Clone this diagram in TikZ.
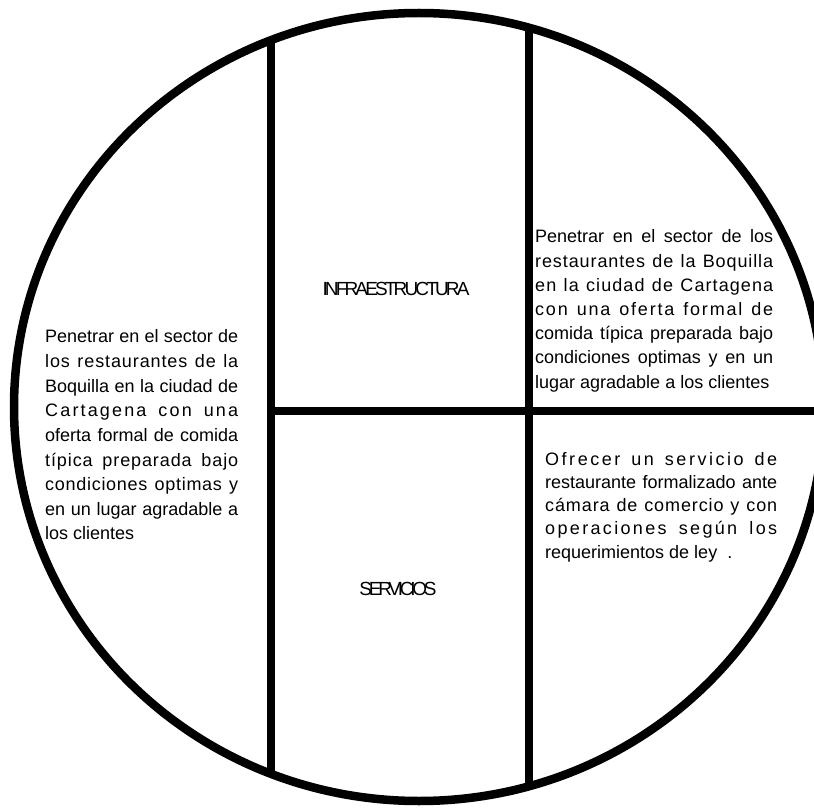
\documentclass[tikz,border=0pt]{standalone}
\usepackage{fontspec}
\setmainfont{Liberation Sans}
\newcommand\spaced[2]{{\addfontfeature{LetterSpace=#1}#2}}
\begin{document}
\begin{tikzpicture}[
        x=1pt, y=-1pt,
        rim/.style={line width=8.5pt},
        txt/.style={inner sep=0pt, anchor=base west, align=justify, font=\fontsize{18}{24.6}\selectfont},
        tag/.style={inner sep=0pt, anchor=center, font=\fontsize{19}{22}\selectfont}
    ]
    \useasboundingbox (0,0) rectangle (814,810);

    % Circulo y divisiones
    \begin{scope}
        \clip (419,407) ellipse [x radius=405, y radius=394];
        \draw[rim] (271,0) -- (271,810);
        \draw[rim] (529,0) -- (529,810);
        \draw[rim] (271,411) -- (840,411);
    \end{scope}
    \draw[rim] (419,407) ellipse [x radius=405, y radius=394];

    % Titulos
    \node[tag] (infra) at (396,289) {\spaced{-15}{INFRAESTRUCTURA}};
    \node[tag] (serv)  at (398,589) {\spaced{-17}{SERVICIOS}};

    % Textos
    \node[txt, text width=193pt] (mision) at (45,343) {Penetrar en el sector de\linebreak
        \spaced{5}{los restaurantes de la}\linebreak
        Boquilla en la ciudad de\linebreak
        \spaced{12}{Cartagena con una}\linebreak
        oferta formal de comida\linebreak
        \spaced{5}{típica preparada bajo}\linebreak
        \spaced{4}{condiciones optimas y}\linebreak
        en un lugar agradable a\linebreak
        los clientes};
    \node[txt, text width=238pt, font=\fontsize{18}{24.2}\selectfont] (objetivo) at (535,243) {Penetrar en el sector de los\linebreak
        \spaced{5}{restaurantes de la Boquilla}\linebreak
        \spaced{6}{en la ciudad de Cartagena}\linebreak
        \spaced{10}{con una oferta formal de}\linebreak
        comida típica preparada bajo\linebreak
        condiciones optimas y en un\linebreak
        lugar agradable a los clientes};
    \node[txt, text width=232pt, font=\fontsize{18}{23.3}\selectfont] (oferta) at (545,465) {\spaced{14}{Ofrecer un servicio de}\linebreak
        restaurante formalizado ante\linebreak
        \spaced{5}{cámara de comercio y con}\linebreak
        \spaced{13}{operaciones según los}\linebreak
        requerimientos de ley\ \ .};

\end{tikzpicture}
\end{document}
